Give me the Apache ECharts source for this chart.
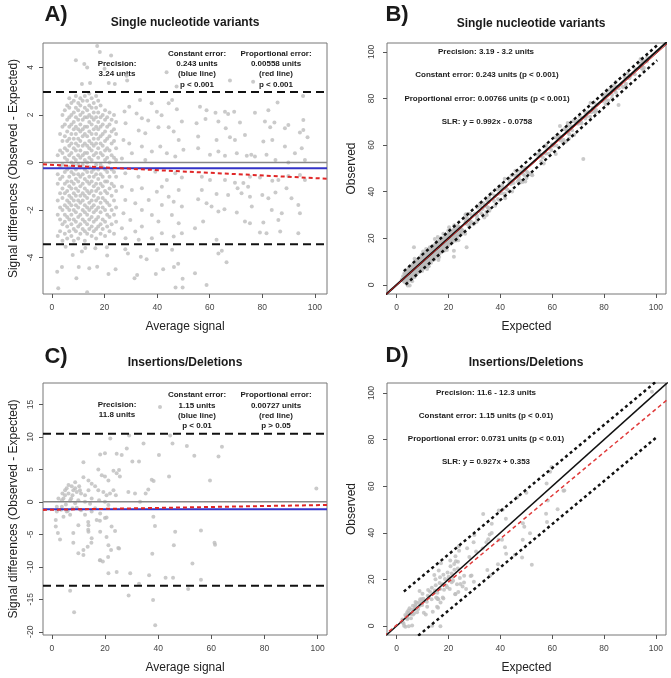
<!DOCTYPE html>
<html>
<head>
<meta charset="utf-8">
<script src="https://cdn.jsdelivr.net/npm/echarts@6/dist/echarts.min.js"></script>
<style>
html, body { margin: 0; padding: 0; background: #fff; }
#chart { width: 671px; height: 678px; }
</style>
</head>
<body>
<div id="chart"></div>
<script>
// tick values
const signalTicks = [0, 20, 40, 60, 80, 100];
const snvDiffTicks = [-4, -2, 0, 2, 4];
const indelDiffTicks = [-20, -15, -10, -5, 0, 5, 10, 15];

// SNV Bland-Altman, dense part: [average, [differences...]]
const snvDenseColumns = [
  [2.2, [-3.1, -2.2, -1.6, -0.9, -0.5, 0.3]],
  [3.1, [-2.9, -2.4, -1.9, -1.3, -0.7, -0.2, 0.5, 1.2]],
  [4.0, [-3.3, -2.6, -2.0, -1.5, -1.1, -0.6, -0.1, 0.4, 0.9, 1.5, 2.0]],
  [4.9, [-3.0, -2.5, -2.2, -1.8, -1.3, -0.9, -0.4, 0.2, 0.6, 1.1, 1.6, 2.2]],
  [5.8, [-3.2, -2.7, -2.3, -1.9, -1.6, -1.2, -0.8, -0.3, 0.1, 0.5, 0.9, 1.3, 1.8, 2.4]],
  [6.6, [-2.9, -2.4, -2.0, -1.7, -1.4, -1.0, -0.6, -0.2, 0.3, 0.7, 1.0, 1.5, 1.9, 2.3, 2.7]],
  [7.4, [-3.1, -2.6, -2.2, -1.8, -1.5, -1.1, -0.8, -0.4, 0.0, 0.4, 0.8, 1.2, 1.6, 2.0, 2.5]],
  [8.3, [-3.3, -2.8, -2.4, -2.0, -1.6, -1.3, -0.9, -0.5, -0.1, 0.2, 0.6, 1.0, 1.4, 1.7, 2.1, 2.6]],
  [9.1, [-2.9, -2.5, -2.1, -1.8, -1.4, -1.1, -0.7, -0.3, 0.1, 0.5, 0.8, 1.2, 1.5, 1.9, 2.3, 2.8]],
  [10.0, [-3.2, -2.7, -2.3, -1.9, -1.6, -1.2, -0.8, -0.5, -0.1, 0.3, 0.7, 1.0, 1.4, 1.8, 2.2, 2.5]],
  [10.8, [-3.0, -2.6, -2.2, -1.7, -1.4, -1.0, -0.6, -0.2, 0.2, 0.5, 0.9, 1.3, 1.6, 2.0, 2.4, 2.7]],
  [11.7, [-2.8, -2.4, -2.0, -1.6, -1.3, -0.9, -0.5, -0.1, 0.3, 0.7, 1.1, 1.4, 1.8, 2.1, 2.6]],
  [12.5, [-3.3, -2.9, -2.5, -2.1, -1.8, -1.4, -1.1, -0.7, -0.3, 0.1, 0.4, 0.8, 1.2, 1.5, 1.9, 2.3, 2.8]],
  [13.4, [-3.0, -2.6, -2.2, -1.9, -1.5, -1.2, -0.8, -0.4, 0.0, 0.4, 0.7, 1.1, 1.5, 1.9, 2.2, 2.6]],
  [14.2, [-2.8, -2.4, -2.0, -1.7, -1.3, -0.9, -0.6, -0.2, 0.2, 0.6, 0.9, 1.3, 1.7, 2.0, 2.4, 2.9]],
  [15.1, [-3.1, -2.7, -2.3, -1.9, -1.6, -1.2, -0.8, -0.4, 0.1, 0.5, 0.8, 1.2, 1.6, 1.9, 2.3, 2.7]],
  [15.9, [-2.9, -2.5, -2.1, -1.8, -1.4, -1.0, -0.6, -0.3, 0.3, 0.7, 1.0, 1.4, 1.8, 2.1, 2.5]],
  [16.8, [-3.2, -2.8, -2.4, -2.0, -1.6, -1.2, -0.9, -0.5, -0.1, 0.4, 0.8, 1.2, 1.5, 1.9, 2.3, 2.8]],
  [17.6, [-2.7, -2.3, -1.9, -1.5, -1.1, -0.7, -0.3, 0.2, 0.6, 1.0, 1.4, 1.7, 2.1, 2.6]],
  [18.5, [-3.0, -2.6, -2.1, -1.7, -1.3, -0.9, -0.5, -0.1, 0.4, 0.8, 1.1, 1.5, 1.9, 2.4]],
  [19.3, [-2.8, -2.4, -1.9, -1.5, -1.0, -0.6, -0.2, 0.3, 0.7, 1.2, 1.6, 2.0]],
  [20.2, [-3.1, -2.5, -2.0, -1.6, -1.2, -0.8, -0.3, 0.1, 0.5, 0.9, 1.3, 1.8, 2.2]],
  [21.0, [-2.7, -2.2, -1.7, -1.3, -0.8, -0.4, 0.2, 0.6, 1.0, 1.5, 1.9]],
  [21.9, [-2.9, -2.3, -1.8, -1.1, -0.6, 0.0, 0.5, 1.1, 1.6, 2.1]],
  [22.7, [-2.6, -2.0, -1.4, -0.9, -0.3, 0.3, 0.8, 1.3, 1.8]],
  [23.6, [-3.0, -2.2, -1.6, -1.0, -0.4, 0.2, 0.9, 1.4, 2.0]],
  [24.4, [-2.5, -1.9, -1.2, -0.6, 0.1, 0.6, 1.2, 1.7]]
];

// SNV Bland-Altman, scattered points [average, difference]
const snvScatter = [
  [17.2, 4.9], [18.2, 4.65], [22.5, 4.5], [9.1, 4.3], [12.3, 4.15], [13.4, 4.0], [20, 3.95], [28.4, 3.65],
  [28.6, 3.45], [23.9, 3.3], [14.5, 3.35], [11.4, 3.3], [21.6, 3.35], [43.6, 3.8], [47.4, 3.2], [67.7, 3.45],
  [76.5, 3.4], [95.5, 2.8],
  [33.5, 2.63], [37.9, 2.49], [45.7, 2.63], [41.7, 1.99], [36.6, 1.77], [32.2, 2.06],
  [27.6, 2.15], [29.4, 2.35], [34.2, 1.86], [39.9, 2.14], [44.4, 2.49], [47.5, 2.24], [49.4, 1.72], [28, 1.65],
  [33, 1.34], [35.5, 1.23], [40.5, 1.48], [44.4, 1.48], [46.3, 1.3], [48.2, 0.95], [27.2, 0.95], [29.4, 0.8],
  [34.2, 0.67], [38, 0.46], [41.2, 0.67], [43.7, 0.39], [46.9, 0.25], [50, 0.53], [30.4, 0.39], [26.6, 0.17],
  [35.5, 0.1], [27.9, -0.46], [32.9, -0.6], [39.3, -0.39], [43.7, -0.74], [46.9, -0.46], [49.4, -0.63],
  [26.6, -1.02], [30.4, -1.16], [34.2, -1.09], [39.9, -1.23], [41.8, -1.02], [44.4, -1.44], [48.2, -1.16],
  [27.9, -1.58], [31.7, -1.72], [36.8, -1.58], [41.8, -1.79], [46.3, -1.65], [49.4, -1.86], [27.2, -2.14],
  [29.8, -2.42], [34.2, -2], [38, -2.21], [40.5, -2.49], [45.6, -2.21], [48.2, -2.56], [26.6, -2.77],
  [31.7, -2.91], [34.2, -2.7], [41.8, -2.98], [46.3, -3.12], [28, -3.19], [33, -3.26], [38, -3.19], [49.4, -2.98],
  [2.0, -4.6], [2.4, -5.3], [7.9, -3.9], [9.3, -4.88], [10.2, -4.4], [14.2, -4.46], [13.4, -5.47], [17.2, -4.39],
  [21, -3.92], [21.5, -4.7], [24.2, -4.5], [27.9, -3.66], [31.4, -4.88], [32.4, -4.74], [36, -4.08], [39.5, -4.7],
  [42.3, -4.5], [45.7, -3.68], [46.4, -4.4], [47, -5.27], [48, -4.27], [49.7, -4.9], [49.7, -5.27], [11.4, -3.75],
  [16.5, -3.61], [20.9, -3.57], [28.9, -3.83], [33.8, -3.97], [39.9, -3.69], [3.8, -4.4], [12.7, -3.6], [5.2, -3.55],
  [56.3, 2.35], [58.8, 2.2], [62.2, 2.09], [65.8, 2.14], [67, 2.04], [69.3, 2.14], [77.2, 2.09], [82.3, 2.2],
  [85.8, 2.52], [95.6, 1.79], [58.4, 1.83], [55, 1.65], [63.3, 1.72], [66.1, 1.44], [71.5, 1.68], [73.4, 1.16],
  [81, 1.72], [83, 1.48], [84.6, 1.68], [88.6, 1.44], [89.9, 1.58], [94.3, 1.26], [95.6, 1.37], [97.2, 1.06],
  [55.6, 1.09], [62.6, 0.95], [67.7, 1.06], [69.6, 0.95], [80.4, 0.88], [83.8, 0.95], [88.6, 0.67], [95, 0.6],
  [55.6, 0.6], [60.1, 0.32], [63.3, 0.46], [65.8, 0.28], [70.3, 0.39], [74.1, 0.28], [75.8, 0.32], [77.2, 0.25],
  [81.6, 0.32], [92.4, 0.39], [85, 0.1], [89.9, 0.0], [96.2, 0.1],
  [57, -0.6], [60.1, -0.74], [65.8, -0.74], [69.6, -0.85], [72.8, -0.87], [75.3, -0.6], [79.1, -0.63], [83.8, -0.77],
  [86.1, -0.74], [89.9, -0.57], [94.3, -0.53], [96.2, -0.74], [57, -1.16], [55.6, -1.55], [62.6, -1.33], [67, -1.37],
  [70.6, -1.09], [72.1, -1.3], [74.6, -1.02], [75.3, -1.44], [80, -1.37], [85, -1.27], [89.2, -1.09], [91.1, -1.51],
  [82.3, -1.51], [58.8, -1.72], [60.7, -1.86], [63.3, -2.07], [65.6, -1.97], [70.3, -2.11], [76, -1.86], [83.6, -2],
  [87.4, -2.14], [93.7, -1.79], [94.3, -2.14], [57.5, -2.49], [73.4, -2.49], [75.3, -2.56], [80.4, -2.53],
  [86.1, -2.42], [81.6, -2.98], [79.1, -2.95], [86.8, -2.91], [93.7, -2.98], [54.4, -2.77], [62.6, -3.26],
  [63.3, -3.83], [64.6, -3.72], [66.4, -4.2], [54.4, -4.67], [58.8, -5.16]
];

// SNV pairs beyond the difference plot's range (seen only in panel B)
const snvOffPlot = [[63, -18], [11.45, 9.5], [21.6, -10.8], [17.1, -10], [18.4, -7.4], [81.4, -8.4], [65.6, 5.2]];

// Indel Bland-Altman points [average, difference]
const indelPoints = [
  [40.7, 14.6], [22, 9.75], [29.1, 10.2], [44.5, 10.2], [45.4, 9.0], [50.8, 8.6], [64, 8.5], [34.5, 9.0],
  [62.7, 7.0], [53.6, 7.1], [40.3, 7.2], [18.2, 7.3], [20, 7.5], [24.4, 7.4], [26.3, 7.2], [28.2, 8.2],
  [30.3, 6.2], [32.8, 6.2], [11.9, 6.1], [17.5, 5.0], [18.8, 4.1], [20, 3.9], [21.3, 3.3], [23.2, 4.8],
  [24.4, 4.4], [25.6, 3.9], [25.3, 4.9], [37.6, 3.4], [38.3, 3.2], [36.3, 1.9], [35.3, 1.3], [33.2, 0],
  [59.5, 3.3], [44.1, 3.9], [99.5, 2.05], [31.3, 1.3], [28.8, 1.5], [11.9, 3.8], [8.8, 3.0], [13.8, 3.3],
  [15, 2.8], [16.3, 2.4], [17.5, 1.8], [19.4, 1.5], [20.6, 1.0], [21.9, 1.3], [23.2, 1.8], [24.1, 1.0],
  [13.8, 1.8], [12.5, 1.0], [10.6, 1.8], [8.1, 1.8], [6.3, 1.3], [5.6, 2.1], [4.4, 0.5], [5, 1.0],
  [7.3, 0.5], [10, 0.25], [15, 0.5], [17.8, 0.25], [20, 0], [21.3, -0.5], [3.8, -0.75], [5.6, -1.5],
  [6.9, -2.0], [1.9, -0.75], [4.0, 1.3], [5.0, 1.8], [6.3, 2.6], [7.5, 2.4], [8.8, 2.1], [9.4, 1.5],
  [10.3, 2.4], [11, 1.3], [7.8, 1.0], [6.9, 0.2], [8.8, -0.2], [5.3, -0.4], [3.5, -1.2], [4.4, -2.3],
  [6.0, -1.4], [7.8, -1.0], [9.4, -0.9], [11, -1.3], [12.5, -2.0], [15, -1.5], [16.3, -1.0], [18.2, -1.8],
  [20, -2.5], [14.4, -0.3], [12.5, 0], [3.8, 0.25], [2.5, 0.5], [1.9, -1.5],
  [1.5, -2.8], [1.5, -3.8], [2.3, -4.8], [3.1, -5.8], [8.1, -4.8], [8.1, -6.3], [10, -7.9], [11.9, -7.4],
  [11.9, -8.2], [13.8, -3.6], [13.8, -4.6], [15, -5.6], [13.5, -6.9], [16.9, -2.8], [18.2, -4.6], [20.6, -5.4],
  [21.3, -6.7], [22.3, -7.4], [18.2, -9.0], [19.2, -9.2], [21.2, -8.5], [21.3, -11], [24.4, -10.8], [25.3, -7.2],
  [29.5, -11], [38.2, -2.3], [38.8, -3.7], [37.8, -8.0], [36.6, -11.3], [46.4, -4.6], [45.9, -6.7], [56.1, -4.4],
  [61.2, -6.3], [61.4, -6.6], [52.9, -9.5], [42.8, -11.7], [45.6, -11.7], [56.1, -12.0], [51.3, -13.4],
  [6.9, -13.7], [28.9, -14.4], [38.1, -15.1], [8.4, -17.0], [38.9, -19.0], [32.8, -12.6],
  [10, -3.6], [13.7, -3.1], [13.7, -4.3], [18.1, -2.9], [20.6, -2.4], [14.9, -6.3], [22.5, -3.8], [23.8, -4.5],
  [25, -7.1], [18.1, -9.0], [39.2, -25.9]
];

// fitted / reference lines
const snvLimits = [2.97, -3.44];
const snvConstant = -0.243;
const snvProportional = [-0.1, -0.0056];   // intercept, slope
const snvSLR = [-0.0758, 0.992];
const snvBand = [3.2, -3.2];
const indelLimits = [10.5, -12.9];
const indelConstant = -1.15;
const indelProportional = [-1.22, 0.0072];
const indelSLR = [0.353, 0.927];
const indelBand = [11.8, -12.3];

// axis ranges
const rangeA = { x: [-3.4, 104.6], y: [-5.54, 5.03] };
const rangeB = { x: [-3.7, 103.9], y: [-3.9, 103.8] };
const rangeC = { x: [-3.3, 103.5], y: [-20.5, 18.3] };
const rangeD = { x: [-3.7, 103.9], y: [-3.9, 104.3] };

const FONT = '"Liberation Sans", Arial, sans-serif';

const snvBA = snvScatter
  .concat(...snvDenseColumns.map(([a, ds]) => ds.map(d => [a, d])))
  .concat(snvOffPlot);
// observed = avg + diff/2, expected = avg - diff/2
const toObsExp = pts => pts.map(([a, d]) => [a - d / 2, a + d / 2]);

const chart = echarts.init(document.getElementById('chart'));

function xAx(grid, range, name) {
  return {
    type: 'value', gridIndex: grid, min: range[0], max: range[1],
    axisLine: { show: false, onZero: false },
    splitLine: { show: false },
    axisTick: { show: true, length: 4, customValues: signalTicks, lineStyle: { color: '#555' } },
    axisLabel: { customValues: signalTicks, color: '#444', fontSize: 8.5, fontFamily: FONT, margin: 9 },
    name, nameLocation: 'middle', nameGap: 27,
    nameTextStyle: { fontSize: 12, color: '#222', fontFamily: FONT }
  };
}
function yAx(grid, range, ticks, name, labelMargin, nameGap) {
  return {
    type: 'value', gridIndex: grid, min: range[0], max: range[1],
    axisLine: { show: false, onZero: false },
    splitLine: { show: false },
    axisTick: { show: true, length: 4, customValues: ticks, lineStyle: { color: '#555' } },
    axisLabel: { customValues: ticks, rotate: 90, color: '#444', fontSize: 8.5, fontFamily: FONT, margin: labelMargin },
    name, nameLocation: 'middle', nameGap,
    nameTextStyle: { fontSize: 12, color: '#222', fontFamily: FONT }
  };
}
function dots(grid, data) {
  return {
    type: 'scatter', xAxisIndex: grid, yAxisIndex: grid, data,
    symbol: 'circle', symbolSize: 4, clip: true, silent: true,
    itemStyle: { color: '#bdbdbd' }, z: 2
  };
}
// straight line y = a + b*x between x0 and x1
function line(grid, x0, x1, a, b, color, width, type) {
  return {
    type: 'line', xAxisIndex: grid, yAxisIndex: grid,
    data: [[x0, a + b * x0], [x1, a + b * x1]],
    showSymbol: false, symbol: 'none', silent: true, clip: true, z: 3,
    lineStyle: { color, width, type: type || 'solid' }
  };
}
function note(x, y, text, size, weight, lh) {
  return {
    type: 'text', x, y, silent: true,
    style: {
      text, fill: '#1a1a1a', font: `${weight} ${size}px ${FONT}`,
      align: 'center', verticalAlign: 'middle', lineHeight: lh || size + 2
    }
  };
}

const DASH = [8, 5], RED_DASH = [4, 3], DOT = [3, 3];
const boxStyle = { show: true, borderColor: '#777', borderWidth: 1, backgroundColor: 'transparent' };

const option = {
  animation: false,
  backgroundColor: '#fff',
  grid: [
    Object.assign({ left: 43, top: 43, width: 284, height: 251 }, boxStyle),
    Object.assign({ left: 387, top: 43, width: 279, height: 251 }, boxStyle),
    Object.assign({ left: 43, top: 383, width: 284, height: 252 }, boxStyle),
    Object.assign({ left: 387, top: 383, width: 279, height: 252 }, boxStyle)
  ],
  xAxis: [
    xAx(0, rangeA.x, 'Average signal'),
    xAx(1, rangeB.x, 'Expected'),
    xAx(2, rangeC.x, 'Average signal'),
    xAx(3, rangeD.x, 'Expected')
  ],
  yAxis: [
    yAx(0, rangeA.y, snvDiffTicks, 'Signal differences (Observed - Expected)', 8, 23),
    yAx(1, rangeB.y, signalTicks, 'Observed', 11, 29),
    yAx(2, rangeC.y, indelDiffTicks, 'Signal differences (Observed - Expected)', 8, 23),
    yAx(3, rangeD.y, signalTicks, 'Observed', 11, 29)
  ],
  series: [
    // A
    dots(0, snvBA),
    line(0, rangeA.x[0], rangeA.x[1], 0, 0, '#888', 1.5),
    line(0, rangeA.x[0], rangeA.x[1], snvConstant, 0, '#3434c8', 2),
    line(0, rangeA.x[0], rangeA.x[1], snvProportional[0], snvProportional[1], '#e02626', 2, RED_DASH),
    line(0, rangeA.x[0], rangeA.x[1], snvLimits[0], 0, '#111', 2, DASH),
    line(0, rangeA.x[0], rangeA.x[1], snvLimits[1], 0, '#111', 2, DASH),
    // B
    dots(1, toObsExp(snvBA)),
    line(1, -5, 105, 0, 1, '#111', 2),
    line(1, -5, 105, snvSLR[0], snvSLR[1], '#c02020', 1),
    line(1, 2.8, 100.5, snvSLR[0] + snvBand[0], snvSLR[1], '#111', 2.5, DOT),
    line(1, 3.5, 100.5, snvSLR[0] + snvBand[1], snvSLR[1], '#111', 2.5, DOT),
    // C
    dots(2, indelPoints),
    line(2, rangeC.x[0], rangeC.x[1], 0, 0, '#888', 1.5),
    line(2, rangeC.x[0], rangeC.x[1], indelConstant, 0, '#3434c8', 2),
    line(2, rangeC.x[0], rangeC.x[1], indelProportional[0], indelProportional[1], '#e02626', 2, RED_DASH),
    line(2, rangeC.x[0], rangeC.x[1], indelLimits[0], 0, '#111', 2, DASH),
    line(2, rangeC.x[0], rangeC.x[1], indelLimits[1], 0, '#111', 2, DASH),
    // D
    dots(3, toObsExp(indelPoints)),
    line(3, -5, 105, 0, 1, '#111', 1.5),
    line(3, -5, 105, indelSLR[0], indelSLR[1], '#e03a3a', 1.5, RED_DASH),
    line(3, 2.8, 101, indelSLR[0] + indelBand[0], indelSLR[1], '#111', 2.5, DOT),
    line(3, 3, 100.3, indelSLR[0] + indelBand[1], indelSLR[1], '#111', 2.5, DOT)
  ],
  graphic: [
    note(56, 15, 'A)', 22, 'bold'),
    note(397, 15, 'B)', 22, 'bold'),
    note(56, 357, 'C)', 22, 'bold'),
    note(397, 356, 'D)', 22, 'bold'),
    note(185, 23, 'Single nucleotide variants', 12, 'bold'),
    note(531, 24, 'Single nucleotide variants', 12, 'bold'),
    note(185, 363, 'Insertions/Deletions', 12, 'bold'),
    note(526, 363, 'Insertions/Deletions', 12, 'bold'),
    // A notes
    note(117, 68.5, 'Precision:\n3.24 units', 8, 'bold', 10.3),
    note(197, 69, 'Constant error:\n0.243 units\n(blue line)\np < 0.001', 8, 'bold', 10.3),
    note(276, 69, 'Proportional error:\n0.00558 units\n(red line)\np < 0.001', 8, 'bold', 10.3),
    // B notes
    note(486, 52, 'Precision: 3.19 - 3.2 units', 8, 'bold'),
    note(487, 75, 'Constant error: 0.243 units (p < 0.001)', 8, 'bold'),
    note(487, 99, 'Proportional error: 0.00766 units (p < 0.001)', 8, 'bold'),
    note(487, 122, 'SLR: y = 0.992x - 0.0758', 8, 'bold'),
    // C notes
    note(117, 410, 'Precision:\n11.8 units', 8, 'bold', 10.3),
    note(197, 410.5, 'Constant error:\n1.15 units\n(blue line)\np < 0.01', 8, 'bold', 10.3),
    note(276, 410.5, 'Proportional error:\n0.00727 units\n(red line)\np > 0.05', 8, 'bold', 10.3),
    // D notes
    note(486, 393, 'Precision: 11.6 - 12.3 units', 8, 'bold'),
    note(486, 416, 'Constant error: 1.15 units (p < 0.01)', 8, 'bold'),
    note(486, 439, 'Proportional error: 0.0731 units (p < 0.01)', 8, 'bold'),
    note(486, 462, 'SLR: y = 0.927x + 0.353', 8, 'bold')
  ]
};

chart.setOption(option);
</script>
</body>
</html>
